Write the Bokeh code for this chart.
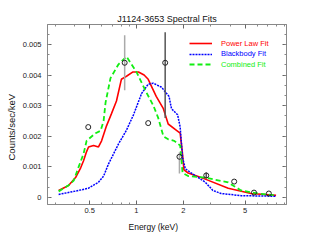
from bokeh.plotting import figure
from bokeh.models import FixedTicker, LogAxis, LinearAxis, Legend, LegendItem, Range1d, Title
from bokeh.embed import file_html
from bokeh.resources import INLINE

# Power law fit
pl_e = [0.316, 0.366, 0.406, 0.438, 0.457, 0.478, 0.492, 0.53, 0.57, 0.597, 0.642, 0.69, 0.744,
        0.80, 0.863, 0.95, 1.03, 1.12, 1.19, 1.34, 1.49, 1.60, 1.80, 1.91, 1.97, 2.02, 2.15,
        2.77, 3.89, 5.46, 7.9]
pl_v = [0.00023, 0.00039, 0.00065, 0.00097, 0.0012, 0.0015, 0.00165, 0.0017, 0.00165, 0.00185,
        0.00234, 0.00273, 0.00315, 0.00386, 0.00396, 0.0041, 0.0041, 0.0040, 0.00386, 0.0033,
        0.0029, 0.0024, 0.0022, 0.0021, 0.0015, 0.0009, 0.0008, 0.0006, 0.0003, 0.00013, 0.00007]

# Blackbody fit
bb_e = [0.316, 0.425, 0.49, 0.57, 0.615, 0.662, 0.767, 0.863, 0.957, 1.08, 1.19, 1.285, 1.45,
        1.62, 1.68, 1.84, 1.91, 1.98, 2.06, 2.25, 2.77, 3.1, 3.5, 4.7, 7.9]
bb_v = [0.0001, 0.00023, 0.0003, 0.0005, 0.0007, 0.0011, 0.00175, 0.0022, 0.0027, 0.0034, 0.0037,
        0.00373, 0.0036, 0.0033, 0.0029, 0.0027, 0.0023, 0.0013, 0.00094, 0.0008, 0.0005, 0.00023,
        0.00013, 0.00006, 0.00004]

# Combined fit
cb_e = [0.316, 0.366, 0.395, 0.425, 0.457, 0.478, 0.546, 0.588, 0.615, 0.633, 0.681, 0.767, 0.863,
        1.0, 1.14, 1.285, 1.38, 1.49, 1.60, 1.75, 1.91, 1.98, 2.15, 2.77, 3.89, 4.7, 6.05, 7.9]
cb_v = [0.0002, 0.0004, 0.00055, 0.001, 0.00143, 0.00185, 0.0021, 0.00218, 0.0025, 0.0031, 0.0039,
        0.00435, 0.0046, 0.0041, 0.0035, 0.003, 0.0026, 0.002, 0.0019, 0.00185, 0.0017, 0.0008,
        0.0007, 0.00065, 0.00049, 0.00023, 0.00013, 0.00007]

# Data points
pt_e = [0.49, 0.84, 1.19, 1.53, 1.89, 2.81, 4.25, 5.7, 7.1]
pt_v = [0.0023, 0.0044, 0.00243, 0.0044, 0.00133, 0.00072, 0.00052, 0.00016, 0.00013]
pt_lo = [0.0023, 0.0035, 0.00243, 0.0026, 0.00078, 0.00062, 0.00052, 0.00016, 0.00013]
pt_hi = [0.0023, 0.0053, 0.00243, 0.0054, 0.00148, 0.00082, 0.00052, 0.00016, 0.00013]
pt_bar_color = ["#aaaaaa", "#aaaaaa", "#aaaaaa", "#555555", "#aaaaaa", "#555555", "#aaaaaa", "#aaaaaa", "#aaaaaa"]

x_ticks = [0.5, 1, 2, 5]
x_tick_labels = ["0.5", "1", "2", "5"]
x_minor = [0.3, 0.4, 0.6, 0.7, 0.8, 0.9, 3, 4, 6, 7, 8, 9]
y_ticks = [0, 0.001, 0.002, 0.003, 0.004, 0.005]
y_tick_labels = ["0", "0.001", "0.002", "0.003", "0.004", "0.005"]
y_minor = [i * 0.001 / 3 for i in range(-1, 18)]

title_text = "J1124-3653 Spectral Fits"
x_label = "Energy (keV)"
y_label = "Counts/sec/keV"
FONT = "Liberation Sans"

x0, x1 = 0.268, 9.22
y0, y1 = -0.000229, 0.00565

p = figure(frame_width=239, frame_height=180, x_axis_type="log",
           x_range=Range1d(x0, x1), y_range=Range1d(y0, y1),
           output_backend="svg", toolbar_location=None,
           min_border_left=41, min_border_right=25, min_border_top=24, min_border_bottom=29)
p.grid.visible = False
p.outline_line_color = "#888888"
p.background_fill_color = "white"

p.title.text = title_text
p.title.align = "center"
p.title.text_font = FONT
p.title.text_font_size = "9px"
p.title.text_font_style = "normal"
p.title.text_color = "#111111"
p.title.standoff = 2
p.title.offset = 0


def style_axis(ax, ticks, minor, labels=True):
    ax.ticker = FixedTicker(ticks=ticks, minor_ticks=minor)
    ax.axis_line_color = "#888888"
    ax.major_tick_line_color = "#666666"
    ax.minor_tick_line_color = "#888888"
    ax.major_tick_in = 4
    ax.major_tick_out = 0
    ax.minor_tick_in = 2
    ax.minor_tick_out = 0
    ax.major_label_text_font = FONT
    ax.major_label_text_font_size = "7.5px"
    ax.major_label_text_color = "#222222"
    if not labels:
        ax.major_label_overrides = {float(t): "" for t in ticks}
        ax.major_label_standoff = 0


style_axis(p.xaxis[0], x_ticks, x_minor)
p.xaxis[0].major_label_overrides = {float(t): l for t, l in zip(x_ticks, x_tick_labels)}
p.xaxis[0].major_label_standoff = 3

style_axis(p.yaxis[0], y_ticks, y_minor)
p.yaxis[0].major_label_overrides = {float(t): l for t, l in zip(y_ticks, y_tick_labels)}
p.yaxis[0].major_label_standoff = 6

top = LogAxis()
style_axis(top, x_ticks, x_minor, labels=False)
p.add_layout(top, "above")
right = LinearAxis()
style_axis(right, y_ticks, y_minor, labels=False)
p.add_layout(right, "right")

p.add_layout(Title(text=x_label, align="left", offset=81, standoff=8, text_font=FONT,
                   text_font_size="8.5px", text_font_style="normal", text_color="#111111"), "below")
p.add_layout(Title(text=y_label, align="left", offset=44, standoff=6, text_font=FONT,
                   text_font_size="9.5px", text_font_style="normal", text_color="#111111"), "left")

r_pl = p.line(pl_e, pl_v, line_color="#ff0000", line_width=1.6)
r_bb = p.line(bb_e, bb_v, line_color="#0000ff", line_width=1.5, line_dash="2 1")
r_cb = p.line(cb_e, cb_v, line_color="#11ee11", line_width=1.8, line_dash="5 3")

p.segment(x0=pt_e, y0=pt_lo, x1=pt_e, y1=pt_hi, line_color=pt_bar_color, line_width=1.5)
p.scatter(pt_e, pt_v, marker="circle", size=5, line_color="#222222", line_width=1, fill_alpha=0)

legend_specs = [("Power Law Fit", r_pl, "#ff0000", 156),
                ("Blackbody Fit", r_bb, "#0000ff", 145.5),
                ("Combined Fit", r_cb, "#11ee11", 135)]
for lab, rend, col, vy in legend_specs:
    lg = Legend(items=[LegendItem(label=lab, renderers=[rend])], location=(142, vy),
                padding=0, margin=0, spacing=0, glyph_width=23, glyph_height=10,
                label_height=10, label_standoff=9, border_line_alpha=0,
                background_fill_alpha=0, label_text_color=col, label_text_font=FONT,
                label_text_font_size="7.5px")
    p.add_layout(lg, "center")

open("out.html", "w").write(file_html(p, INLINE))
